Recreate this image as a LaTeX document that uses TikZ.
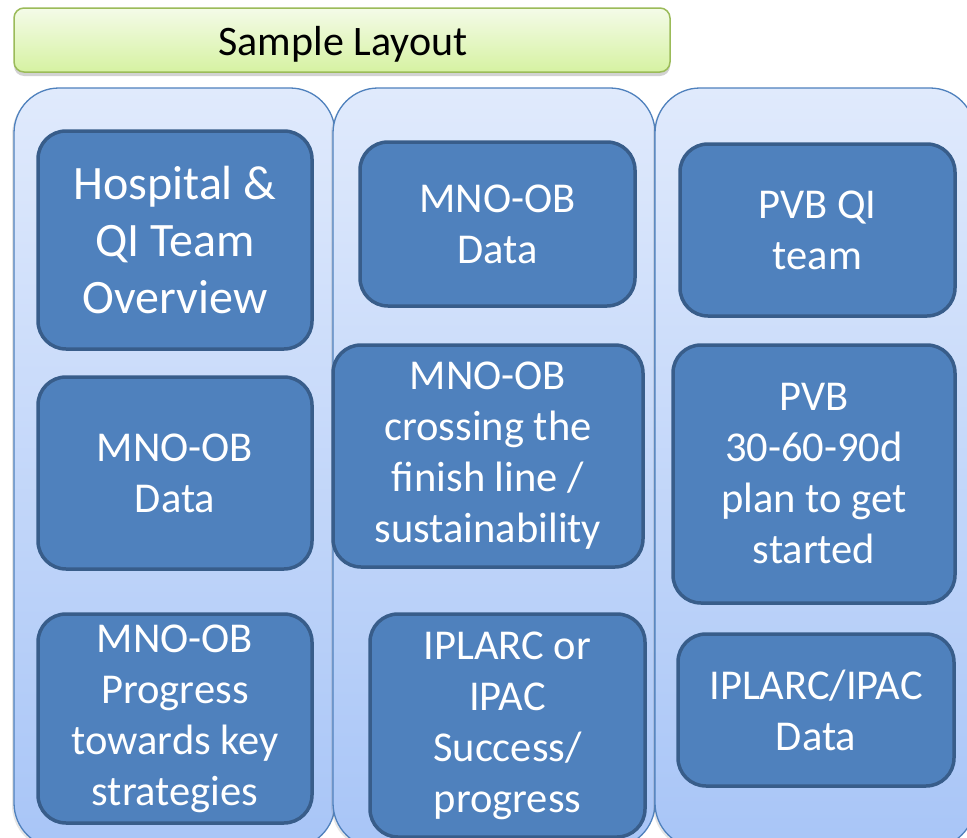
\documentclass[tikz,border=0pt]{standalone}
\usepackage{fontspec}
\setmainfont{Carlito}
\usetikzlibrary{shadows}
\definecolor{boxfill}{HTML}{4F81BD}
\definecolor{boxline}{HTML}{385D8A}
\definecolor{coltop}{HTML}{E0EAFC}
\definecolor{colbot}{HTML}{A8C5F7}
\definecolor{colline}{HTML}{4F81BD}
\definecolor{titletop}{HTML}{F4FBE8}
\definecolor{titlebot}{HTML}{D6F2A2}
\definecolor{titleline}{HTML}{9BBB59}
\tikzset{
  titlebox/.style={rectangle, rounded corners=10pt, draw=titleline, line width=1.5pt,
    top color=titletop, bottom color=titlebot, inner sep=0pt,
    drop shadow={opacity=0.35, shadow xshift=0pt, shadow yshift=-4pt}},
  titletext/.style={inner sep=0pt, font=\fontsize{42}{50}\selectfont, text=black},
  colbox/.style={rectangle, rounded corners=45pt, draw=colline, line width=1.3pt,
    top color=coltop, bottom color=colbot, inner sep=0pt,
    drop shadow={opacity=0.2, shadow xshift=-2pt, shadow yshift=-2pt}},
  itembox/.style={rectangle, rounded corners=28pt, draw=boxline, line width=3.5pt,
    fill=boxfill, text=white, align=center, inner sep=0pt,
    font=\fontsize{42.5}{51}\selectfont},
  bigtext/.style={font=\fontsize{48}{57}\selectfont}
}
\begin{document}
\begin{tikzpicture}[x=1pt,y=-1pt]
\useasboundingbox (0,0) rectangle (967,838);
\fill[white] (0,0) rectangle (967,838);
\clip (0,0) rectangle (967,838);
% title
\node[titlebox, minimum width=656pt, minimum height=64pt] (title) at (342,40) {};
\node[titletext, anchor=base] (titlelabel) at (343,55) {Sample Layout};
% columns
\node[colbox, minimum width=321pt, minimum height=760pt] (col1) at (174.5,468) {};
\node[colbox, minimum width=322pt, minimum height=760pt] (col2) at (494,468) {};
\node[colbox, minimum width=320pt, minimum height=760pt] (col3) at (815,468) {};
% column 1
\node[itembox, bigtext, minimum width=274pt, minimum height=218pt] (b11) at (175,240) {Hospital \&\\QI Team\\Overview};
\node[itembox, minimum width=274pt, minimum height=192pt] (b12) at (175,473) {MNO-OB\\Data};
\node[itembox, minimum width=274pt, minimum height=209pt] (b13) at (175,718.5) {MNO-OB\\Progress\\towards key\\strategies};
% column 2
\node[itembox, minimum width=275pt, minimum height=164pt] (b21) at (497.5,224) {MNO-OB\\Data};
\node[itembox, minimum width=310pt, minimum height=222pt] (b22) at (488,456) {MNO-OB\\crossing the\\finish line /\\sustainability};
\node[itembox, minimum width=275pt, minimum height=223pt] (b23) at (507.5,725.5) {IPLARC or\\IPAC\\Success/\\progress};
% column 3
\node[itembox, minimum width=275pt, minimum height=172pt] (b31) at (817.5,230) {PVB QI\\team};
\node[itembox, minimum width=282pt, minimum height=258pt] (b32) at (814,474) {PVB\\30-60-90d\\plan to get\\started};
\node[itembox, minimum width=276pt, minimum height=152pt] (b33) at (816,710) {IPLARC/IPAC\\Data};
\end{tikzpicture}
\end{document}
